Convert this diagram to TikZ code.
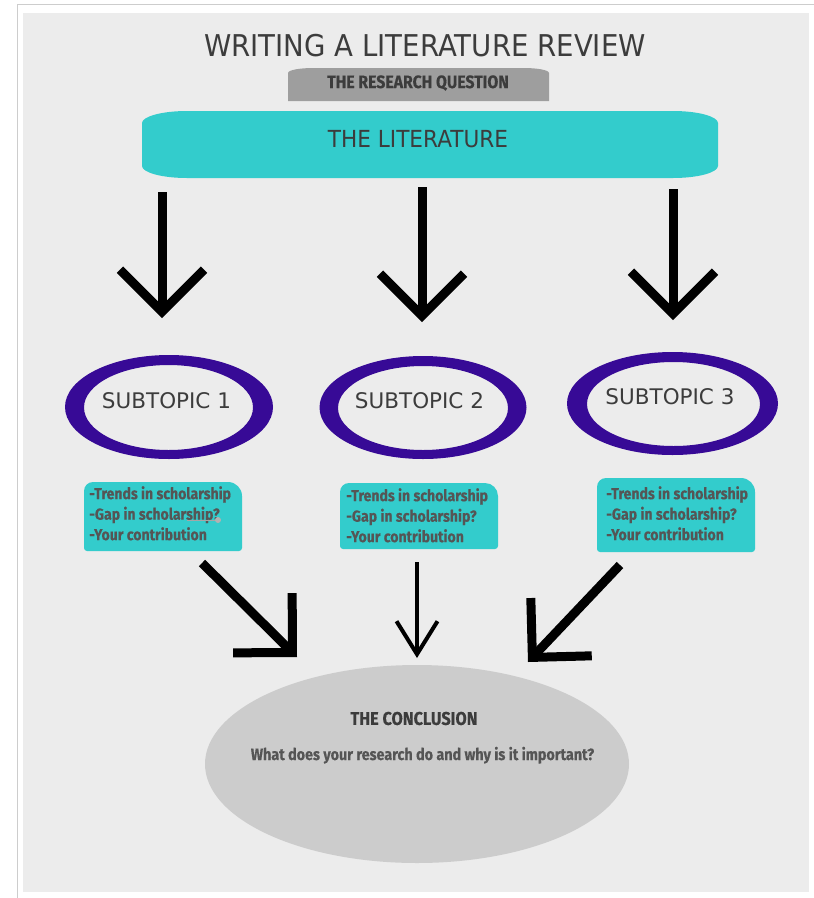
\documentclass[tikz,border=0pt]{standalone}
\usepackage{fontspec}
\usetikzlibrary{arrows.meta}
\newfontfamily\titlefont[FakeStretch=0.92]{DejaVu Sans}
\newfontfamily\subfont{DejaVu Sans}
\newfontfamily\condfont[FakeStretch=0.88,BoldFeatures={FakeBold=0.4}]{Fira Sans}
\definecolor{bgpanel}{RGB}{236,236,236}
\definecolor{frameline}{RGB}{205,205,205}
\definecolor{tealbox}{RGB}{51,204,204}
\definecolor{rqgray}{RGB}{158,158,158}
\definecolor{conclgray}{RGB}{204,204,204}
\definecolor{ring}{RGB}{55,10,150}
\definecolor{txtdark}{RGB}{60,60,60}
\definecolor{txtmid}{RGB}{85,85,85}
\begin{document}
\begin{tikzpicture}[x=1pt,y=-1pt,
  bigarrow/.style={line width=9pt,-{Straight Barb[length=42pt,width=84pt,line join=miter,line cap=butt]}},
  thinarrow/.style={line width=4pt,-{Straight Barb[length=33pt,width=41pt,line join=miter,line cap=butt]}},
  ringfill/.style={fill=ring,even odd rule},
  subtext/.style={inner sep=0pt,text=txtdark,font=\subfont\fontsize{21.5}{24}\selectfont},
  bullettext/.style={inner sep=0pt,anchor=north west,align=left,text=txtmid,font=\condfont\bfseries\fontsize{16}{20.5}\selectfont},
  ]
\useasboundingbox (0,0) rectangle (814,898);
% page and panel
\fill[white] (0,0) rectangle (814,898);
\fill[bgpanel] (23,13) rectangle (809,892);
\draw[frameline,line width=1.5pt] (17,4.5) -- (814,4.5);
\draw[frameline,line width=1pt] (17,4.5) -- (17,898);

% title
\node[inner sep=0pt,text=txtdark,font=\titlefont\fontsize{30}{34}\selectfont] (title) at (425,46) {WRITING A LITERATURE REVIEW};

% research question
\fill[rqgray] (288,101) -- (288,73) .. controls (288,70) and (300,68) .. (313,68) -- (524,68) .. controls (537,68) and (549,70) .. (549,73) -- (549,101) -- cycle;
\node[inner sep=0pt,text=txtdark,font=\condfont\bfseries\fontsize{18}{20}\selectfont] (rq) at (418,83) {THE RESEARCH QUESTION};

% literature
\fill[tealbox] (187,111) -- (673,111) .. controls (698,111) and (718,116.5) .. (718,123) -- (718,166) .. controls (718,172.5) and (698,178) .. (673,178) -- (187,178) .. controls (162,178) and (142,172.5) .. (142,166) -- (142,123) .. controls (142,116.5) and (162,111) .. (187,111) -- cycle;
\node[inner sep=0pt,text=txtdark,font=\titlefont\fontsize{23.5}{26}\selectfont] (lit) at (418,139) {THE LITERATURE};

% top arrows
\coordinate (a1s) at (162,192); \coordinate (a1e) at (162,318);
\coordinate (a2s) at (422,187); \coordinate (a2e) at (422,322);
\coordinate (a3s) at (673,189); \coordinate (a3e) at (673,320);
\draw[bigarrow] (a1s) -- (a1e);
\draw[bigarrow] (a2s) -- (a2e);
\draw[bigarrow] (a3s) -- (a3e);

% subtopic rings
\fill[ringfill] (169,407) ellipse [x radius=104, y radius=52] (168.5,407.5) ellipse [x radius=84.5, y radius=42.5];
\fill[ringfill] (423,407.5) ellipse [x radius=103.5, y radius=51.5] (423,408) ellipse [x radius=85, y radius=42];
\fill[ringfill] (672.5,403.5) ellipse [x radius=105.5, y radius=51.5] (673.5,404) ellipse [x radius=86.5, y radius=42];
\node[subtext] (s1) at (166.5,401) {SUBTOPIC 1};
\node[subtext] (s2) at (419.5,400.5) {SUBTOPIC 2};
\node[subtext] (s3) at (670,397) {SUBTOPIC 3};

% bullet boxes
\fill[tealbox] (84,520) [rounded corners=9pt] -- (84,482) -- (160,482) [rounded corners=14pt] -- (242,482) -- (242,520) [rounded corners=3pt] -- (242,551) -- (84,551) -- cycle;
\fill[tealbox] (340,520) [rounded corners=9pt] -- (340,483) -- (420,483) [rounded corners=13pt] -- (498,483) -- (498,520) [rounded corners=3pt] -- (498,549) -- (340,549) -- cycle;
\fill[tealbox] (597,520) [rounded corners=9pt] -- (597,478) -- (680,478) [rounded corners=14pt] -- (755,478) -- (755,520) [rounded corners=3pt] -- (755,552) -- (597,552) -- cycle;
\node[bullettext] (b1) at (89,486) {-Trends in scholarship\\-Gap in scholarship?\\-Your contribution};
\node[bullettext] (b2) at (346,488) {-Trends in scholarship\\-Gap in scholarship?\\-Your contribution};
\node[bullettext] (b3) at (606,486) {-Trends in scholarship\\-Gap in scholarship?\\-Your contribution};
% small slider mark in first box
\draw[gray!70,line width=0.8pt] (187,520) -- (217,520);
\fill[gray!60] (218,520) circle [radius=3];

% bottom arrows
\coordinate (d1s) at (202,563); \coordinate (d1e) at (297,657);
\coordinate (d2s) at (417,562); \coordinate (d2e) at (417,658);
\coordinate (d3s) at (620,565); \coordinate (d3e) at (528,662);
\draw[bigarrow] (d1s) -- (d1e);
\draw[thinarrow] (d2s) -- (d2e);
\draw[bigarrow] (d3s) -- (d3e);

% conclusion
\fill[conclgray] (417,764) ellipse [x radius=212, y radius=99];
\node[inner sep=0pt,text=txtdark,font=\condfont\bfseries\fontsize{18.5}{20}\selectfont] (ct) at (414,718.5) {THE CONCLUSION};
\node[inner sep=0pt,anchor=base,text=txtmid,font=\condfont\bfseries\fontsize{16.3}{20}\selectfont] (cq) at (422.5,760) {What does your research do and why is it important?};
\end{tikzpicture}
\end{document}
